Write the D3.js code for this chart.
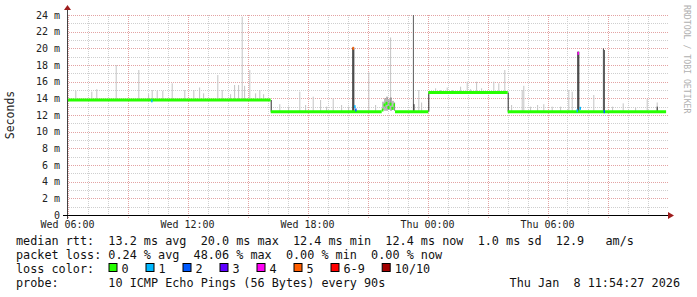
<!DOCTYPE html>
<html>
<head>
<meta charset="utf-8">
<script src="https://cdn.jsdelivr.net/npm/d3@7"></script>
<style>
  body { margin:0; background:#fff; }
  text { font-family:"DejaVu Sans Mono", monospace; white-space:pre; }
</style>
</head>
<body>
<svg id="chart" width="697" height="297"></svg>
<script>
// hours counted from Wed 00:00, values in ms
const medianPts = [
  [5.975,13.8],[16.16,12.4],[21.71,12.6],[21.8,13.2],[21.9,13.4],[22.0,12.9],[22.1,13.3],
  [22.2,12.8],[22.3,13.2],[22.375,12.4],[24.04,14.7],[28.01,12.4],[35.93,12.4]
];
// light smoke spikes: [hour, top ms]
const smokeSpikes = [
  [6.39,14.9],[7.19,14.8],[7.44,15.1],[8.41,18.0],[9.54,17.4],[10.03,14.5],[10.21,15.0],
  [10.46,14.9],[10.74,14.9],[11.21,15.8],[11.84,15.0],[12.29,15.0],[12.58,15.3],[12.78,14.6],
  [13.49,16.8],[13.71,15.0],[14.13,14.5],[14.33,15.6],[14.53,15.6],[14.71,23.8],[14.83,15.5],
  [15.09,17.4],[15.38,14.6],[15.59,15.0],[15.78,14.5],[16.59,13.3],[17.03,13.0],[17.59,14.8],
  [17.88,13.2],[18.26,14.2],[18.63,13.8],[18.93,13.0],[19.26,14.0],[19.68,13.2],[20.03,13.0],
  [21.04,17.1],[21.38,13.2],[22.13,21.3],[23.54,15.0],[23.68,13.5],[24.38,15.2],[24.63,15.0],
  [24.96,15.3],[25.23,15.0],[25.63,15.4],[25.96,16.0],[26.13,15.1],[26.43,16.0],[26.68,15.2],
  [27.29,16.0],[27.54,15.8],[27.84,17.4],[28.18,13.2],[28.71,15.0],[28.79,15.5],[29.13,13.0],
  [29.48,13.2],[29.79,13.3],[30.21,13.0],[30.63,13.0],[31.04,15.0],[31.21,14.8],[32.29,14.4],
  [33.23,13.0],[33.76,13.4],[34.38,12.9],[34.96,13.9],[35.46,13.5]
];
// dense smoke: [hour, low ms, high ms, density 0..1]
const smokeBands = [
  [16.16,12.4,13.8,0.9],[24.04,12.4,14.7,0.9],[28.01,12.4,14.7,0.9],
  [20.24,12.4,20.1,1.0],[20.29,12.4,20.1,1.0],[23.27,12.4,24.0,0.6],
  [31.49,12.4,19.6,1.0],[31.54,12.4,19.6,1.0],[32.77,12.4,20.0,0.7],[32.82,12.4,19.8,0.7],
  [21.75,12.6,13.6,0.35],[21.85,12.5,14.0,0.45],[21.95,12.5,14.2,0.5],[22.05,12.6,13.9,0.45],
  [22.15,12.5,14.1,0.5],[22.25,12.6,13.7,0.4],[22.33,12.5,13.5,0.35],
  [35.46,12.3,13.0,0.9],[23.3,12.3,13.3,0.9]
];
// loss coloured median pixels: [hour, ms, loss class]
const lossMarks = [
  [20.25,20.0,5],[20.33,13.0,1],[20.38,12.6,2],[31.5,19.4,4],[31.45,12.5,1],[31.6,12.8,1],
  [32.8,12.4,2],[10.18,13.7,1]
];
const yTicks = [0,2,4,6,8,10,12,14,16,18,20,22,24];
const xTickHours = [6,12,18,24,30];
const lossLabels = ['0','1','2','3','4','5','6-9','10/10'];
const lossColours = ['#26ff00','#00b8ff','#0059ff','#5e00ff','#ff00f5','#ff5e00','#ff0000','#a10000'];
const legendLines = [
  'median rtt:  13.2 ms avg  20.0 ms max  12.4 ms min  12.4 ms now  1.0 ms sd  12.9   am/s',
  'packet loss: 0.24 % avg  48.06 % max  0.00 % min  0.00 % now',
  'loss color:',
  'probe:       10 ICMP Echo Pings (56 Bytes) every 90s'
];
const stampText = 'Thu Jan  8 11:54:27 2026';

const margin = {left:67, top:15, right:30, bottom:82};
const W = 697, H = 297;
const plotWidth = W - margin.left - margin.right;
const plotHeight = H - margin.top - margin.bottom;
const t0 = new Date(2026,0,7,0,0,0);
const hr = h => new Date(+t0 + h*3600e3);

const svg = d3.select('#chart');
const plot = svg.append('g').attr('transform','translate('+margin.left+','+margin.top+')');

const xScale = d3.scaleTime().domain([hr(5.975), hr(35.975)]).range([0, plotWidth]);
const yScale = d3.scaleLinear().domain([0,24]).range([plotHeight,0]);
const step = xScale(hr(0.05)) - xScale(hr(0));

// grid, minor first
const minorH = d3.range(0,25,1), minorT = d3.range(6,36,1);
plot.append('g').selectAll('line').data(minorH.filter(d => d%2))
  .enter().append('line')
  .attr('x1',0).attr('x2',plotWidth+1)
  .attr('y1',d => Math.round(yScale(d))+0.5).attr('y2',d => Math.round(yScale(d))+0.5)
  .attr('stroke','#cfcfcf').attr('stroke-dasharray','1,1');
plot.append('g').selectAll('line').data(minorT.filter(d => d%3))
  .enter().append('line')
  .attr('x1',d => Math.round(xScale(hr(d)))+0.5).attr('x2',d => Math.round(xScale(hr(d)))+0.5)
  .attr('y1',0).attr('y2',plotHeight+2)
  .attr('stroke','#cfcfcf').attr('stroke-dasharray','1,1');
plot.append('g').selectAll('line').data(yTicks.filter(d => d>0))
  .enter().append('line')
  .attr('x1',0).attr('x2',plotWidth+1)
  .attr('y1',d => Math.round(yScale(d))+0.5).attr('y2',d => Math.round(yScale(d))+0.5)
  .attr('stroke','#e3a3a3').attr('stroke-dasharray','1,1');
plot.append('g').selectAll('line').data(minorT.filter(d => d%3 == 0))
  .enter().append('line')
  .attr('x1',d => Math.round(xScale(hr(d)))+0.5).attr('x2',d => Math.round(xScale(hr(d)))+0.5)
  .attr('y1',0).attr('y2',plotHeight+3)
  .attr('stroke','#e3a3a3').attr('stroke-dasharray','1,1');

// base median lookup for the spikes
const bis = d3.bisector(d => d[0]).right;
function medianAt(h){ const i = Math.max(0, bis(medianPts, h)-1); return medianPts[i][1]; }

plot.append('g').selectAll('rect').data(smokeSpikes)
  .enter().append('rect')
  .attr('x',d => xScale(hr(d[0])))
  .attr('width',step)
  .attr('y',d => yScale(d[1]))
  .attr('height',d => yScale(medianAt(d[0])) - yScale(d[1]))
  .attr('fill','#c4c4c4');

const shade = d3.scaleLinear().domain([0,1]).range(['#bdbdbd','#1e1e1e']);
plot.append('g').selectAll('rect').data(smokeBands)
  .enter().append('rect')
  .attr('x',d => xScale(hr(d[0])))
  .attr('width',step)
  .attr('y',d => yScale(d[2]))
  .attr('height',d => yScale(d[1]) - yScale(d[2]))
  .attr('fill',d => shade(d[3]));

// median drawn as flat pieces, the smoke shows the jumps
const medLine = d3.line()
  .x(d => xScale(hr(d[0])))
  .y(d => yScale(d[1]));
const pieces = medianPts.slice(0,-1).map((p,i) => [p, [medianPts[i+1][0], p[1]]]);
plot.append('g').selectAll('path').data(pieces)
  .enter().append('path')
  .attr('d',medLine)
  .attr('fill','none')
  .attr('stroke',lossColours[0])
  .attr('stroke-width',3);

plot.append('g').selectAll('rect').data(lossMarks)
  .enter().append('rect')
  .attr('x',d => xScale(hr(d[0])))
  .attr('width',step+0.5)
  .attr('y',d => yScale(d[1])-1.5)
  .attr('height',3)
  .attr('fill',d => lossColours[d[2]]);

// axes
plot.append('line').attr('x1',0.5).attr('x2',0.5).attr('y1',-6).attr('y2',plotHeight+4)
  .attr('stroke','#444');
plot.append('line').attr('x1',-4).attr('x2',plotWidth+2).attr('y1',plotHeight+0.5).attr('y2',plotHeight+0.5)
  .attr('stroke','#000');
plot.append('path').attr('d','M-3,-5 L4,-5 L0.5,-10 Z').attr('fill','#9e1c1c');
plot.append('path').attr('d','M'+(plotWidth+1)+','+(plotHeight-3)+' L'+(plotWidth+1)+','+(plotHeight+4)+' L'+(plotWidth+7)+','+(plotHeight+0.5)+' Z')
  .attr('fill','#9e1c1c');

plot.append('g').selectAll('text').data(yTicks)
  .enter().append('text')
  .attr('x',-7)
  .attr('y',d => yScale(d)+3.5)
  .attr('text-anchor','end')
  .attr('font-size','10px')
  .attr('fill','#222')
  .text(d => d == 0 ? '0' : d + ' m');

const fmt = d3.timeFormat('%a %H:%M');
plot.append('g').selectAll('text').data(xTickHours)
  .enter().append('text')
  .attr('x',d => xScale(hr(d)))
  .attr('y',plotHeight+13)
  .attr('text-anchor','middle')
  .attr('font-size','10px')
  .attr('fill','#222')
  .text(d => fmt(hr(d)));

svg.append('text')
  .attr('transform','translate(14,'+(margin.top+plotHeight/2)+') rotate(-90)')
  .attr('text-anchor','middle')
  .attr('font-size','11.5px')
  .attr('fill','#222')
  .text('Seconds');

svg.append('text')
  .attr('transform','translate(684,5) rotate(90)')
  .attr('font-size','8.2px')
  .attr('fill','#b0b0b0')
  .text('RRDTOOL / TOBI OETIKER');

// legend
const legY = [245,259,273,287];
const legend = svg.append('g');
legend.selectAll('text.line').data(legendLines)
  .enter().append('text')
  .attr('class','line')
  .attr('x',16)
  .attr('y',(d,i) => legY[i])
  .attr('font-size','11.8px')
  .attr('fill','#111')
  .text(d => d);

let bx = 108.5;
lossLabels.forEach(function(lab,i){
  legend.append('rect')
    .attr('x',bx+0.5).attr('y',legY[2]-9.5)
    .attr('width',8).attr('height',8)
    .attr('fill',lossColours[i])
    .attr('stroke','#000');
  legend.append('text')
    .attr('x',bx+13).attr('y',legY[2])
    .attr('font-size','11.8px')
    .attr('fill','#111')
    .text(lab);
  bx += 37 + (lab.length-1)*7.1;
});

legend.append('text')
  .attr('x',680)
  .attr('y',legY[3])
  .attr('text-anchor','end')
  .attr('font-size','11.8px')
  .attr('fill','#111')
  .text(stampText);
</script>
</body>
</html>
